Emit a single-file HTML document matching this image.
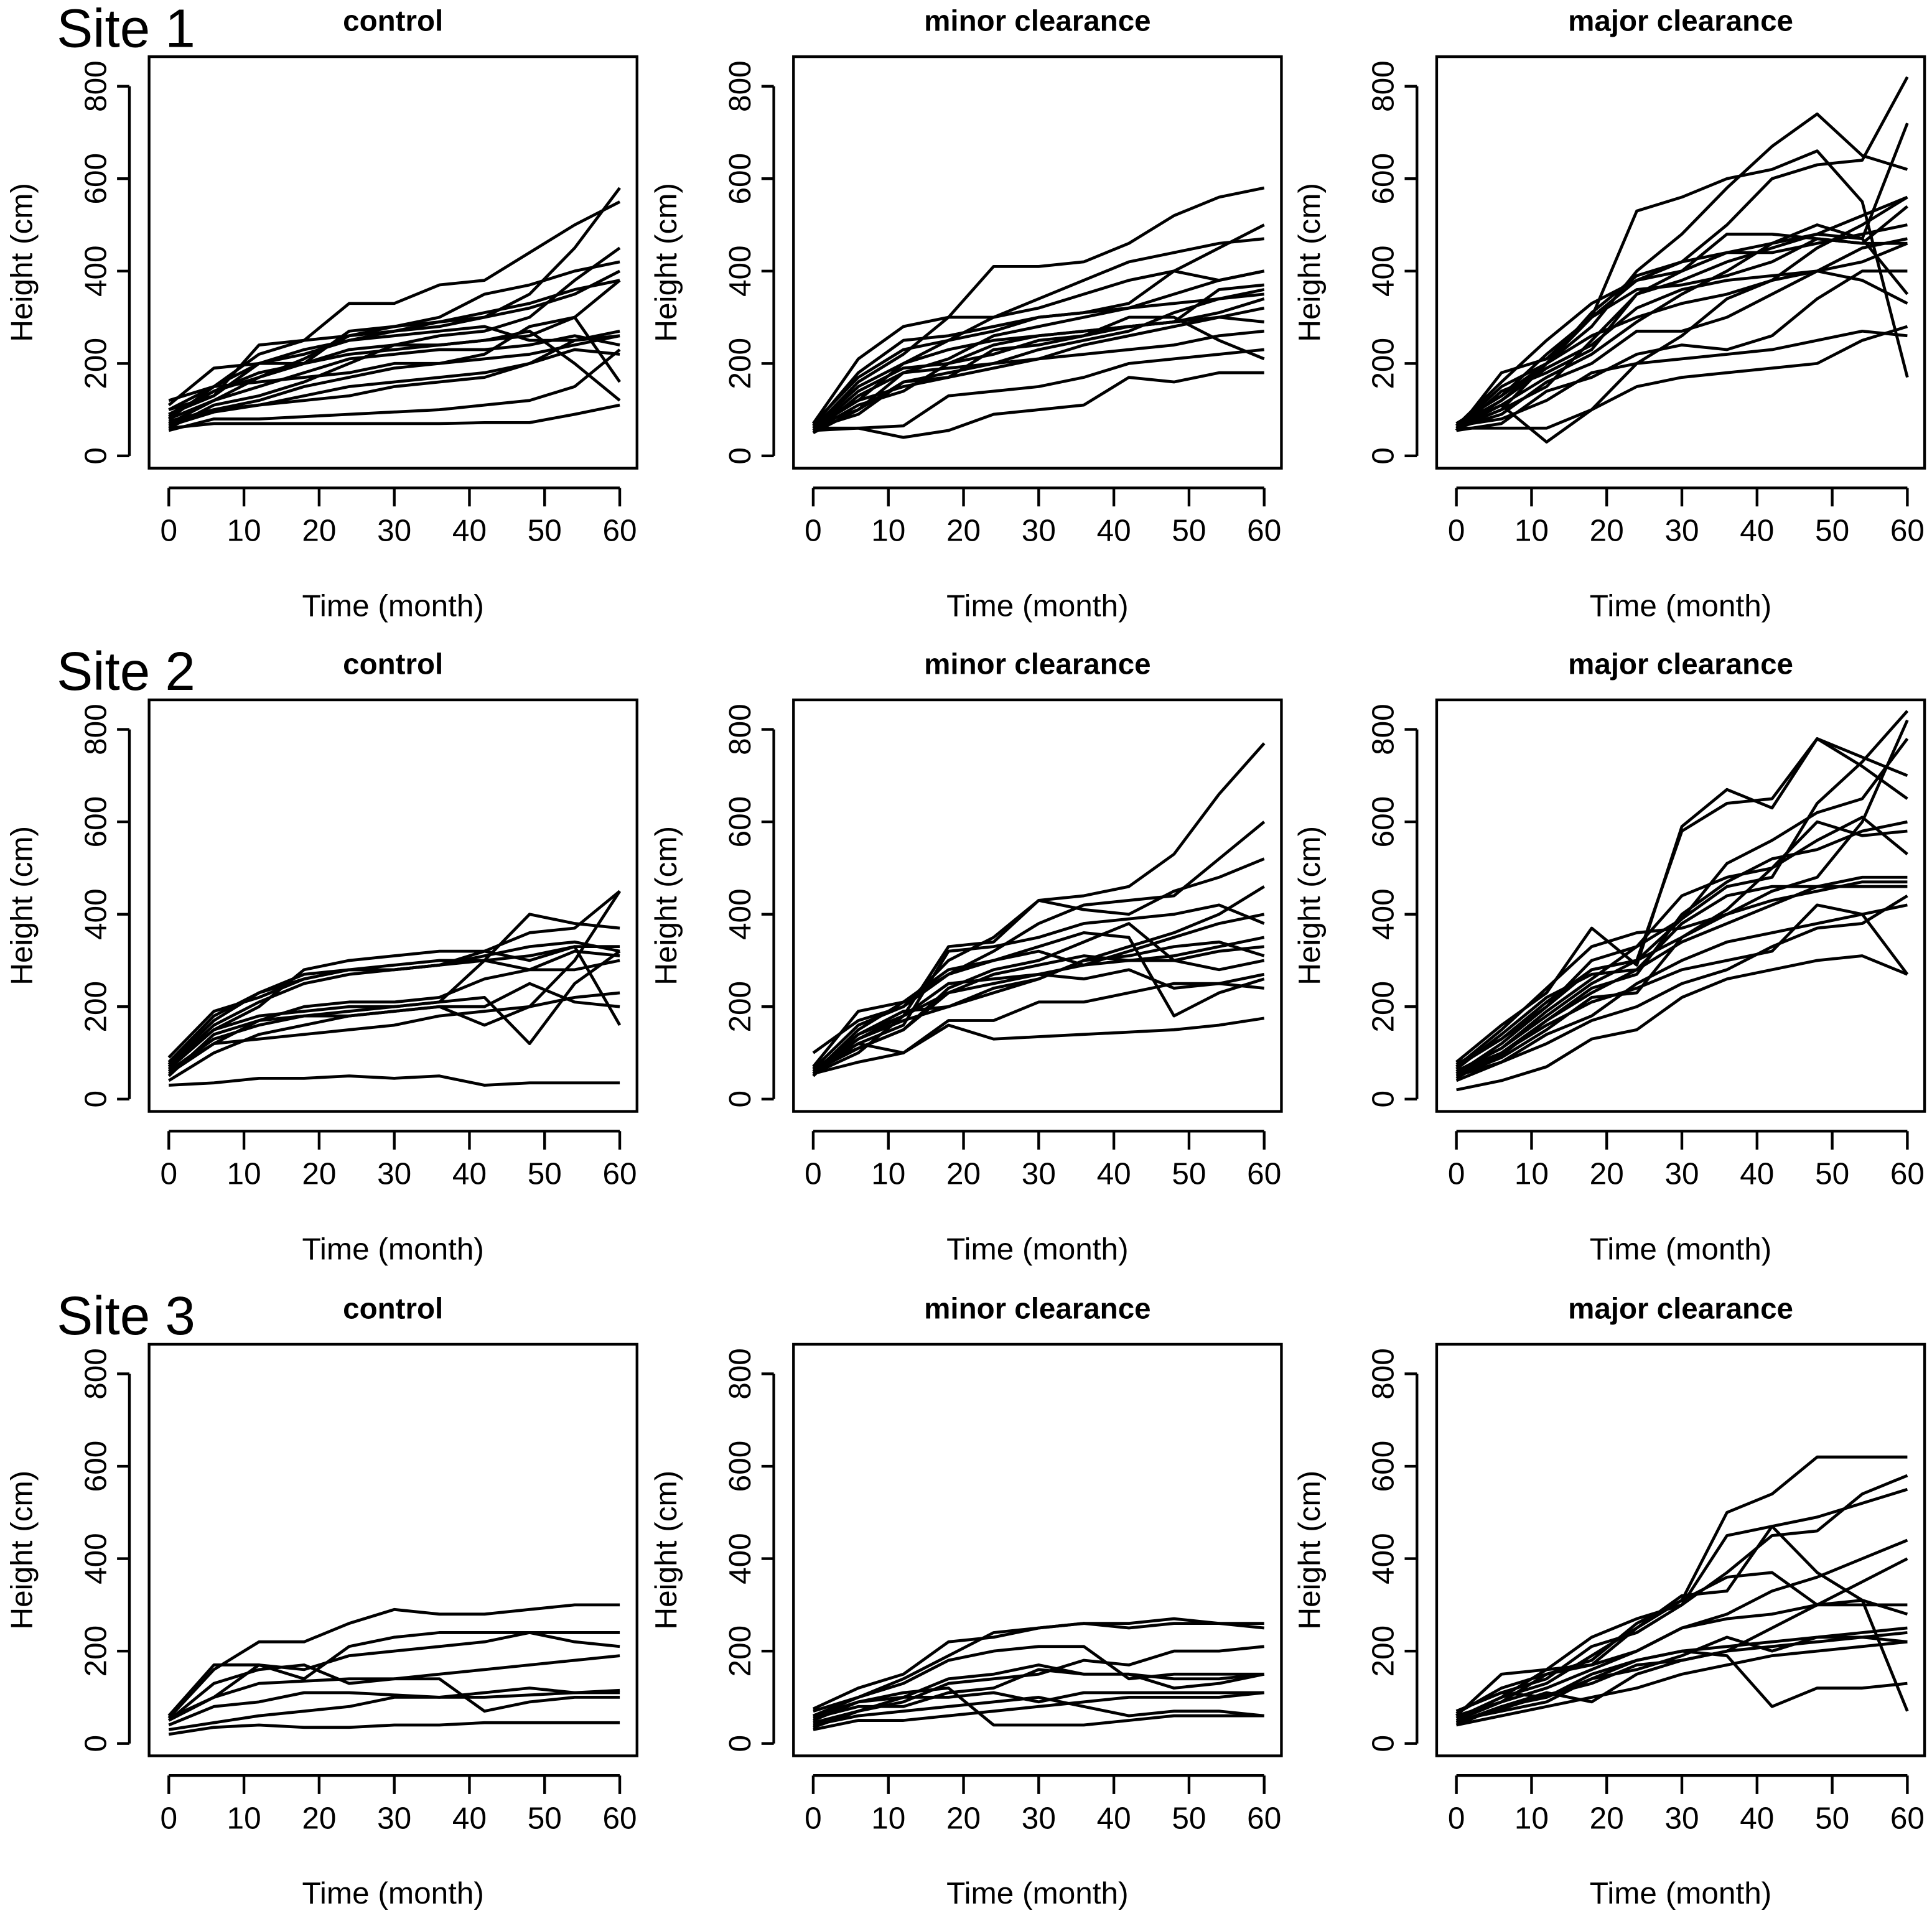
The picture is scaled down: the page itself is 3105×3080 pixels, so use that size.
<!DOCTYPE html>
<html><head><meta charset="utf-8"><style>
html,body{margin:0;padding:0;background:#fff}
svg{display:block}
text{font-family:"Liberation Sans",Arial,sans-serif;fill:#000}
</style></head><body>
<svg id="chart" width="3105" height="3080" viewBox="0 0 1568 1555" preserveAspectRatio="none" xmlns="http://www.w3.org/2000/svg"></svg>
<script>
const times = [0,6,12,18,24,30,36,42,48,54,60];
const xTicks = [0,10,20,30,40,50,60];
const yTicks = [0,200,400,600,800];
const siteLabels = ["Site 1","Site 2","Site 3"];
const treatments = ["control","minor clearance","major clearance"];

const s1control = [
[60,70,70,70,70,70,70,72,72,90,110],[55,80,80,85,90,95,100,110,120,150,230],
[70,100,110,130,150,160,170,180,200,250,270],[90,140,180,200,220,230,240,250,260,300,380],
[100,130,240,250,260,270,280,300,350,450,580],[80,120,170,200,270,280,300,350,370,400,420],
[110,190,200,220,250,260,270,280,250,250,260],[120,150,160,170,180,200,200,210,220,240,260],
[70,120,150,180,210,220,230,230,240,260,240],[60,110,130,160,200,240,260,270,300,380,450],
[80,150,220,250,330,330,370,380,440,500,550],[90,130,200,230,250,270,290,300,320,350,400],
[75,100,120,150,170,190,200,220,280,300,160],[100,150,200,200,230,240,240,250,270,200,120],
[65,95,110,120,130,150,160,170,200,230,220],[85,140,170,210,260,280,290,310,330,360,380]];
const s1minor = [
[55,60,40,55,90,100,110,170,160,180,180],[60,60,65,130,140,150,170,200,210,220,230],
[50,100,160,180,200,210,220,230,240,260,270],[60,150,200,230,250,260,270,280,290,310,340],
[70,210,280,300,410,410,420,460,520,560,580],[60,120,200,250,300,320,350,380,400,450,500],
[70,170,230,250,270,300,310,320,330,340,350],[55,140,190,200,220,250,260,280,290,300,290],
[65,100,180,210,260,280,300,320,350,380,400],[60,160,220,300,300,340,380,420,440,460,470],
[50,130,180,190,200,230,250,270,310,340,360],[70,120,150,170,190,210,240,260,280,300,320],
[60,90,160,170,230,240,260,300,300,250,210],[65,180,250,260,280,300,310,330,400,380,400],
[55,110,140,200,240,260,270,280,290,360,370]];
const s1major = [
[60,60,60,100,150,170,180,190,200,250,280],[65,80,120,180,200,210,220,230,250,270,260],
[60,110,30,100,200,260,340,380,400,420,460],[55,180,210,300,530,560,600,620,660,550,170],
[60,150,200,280,400,480,580,670,740,650,620],[70,130,220,300,380,420,500,600,630,640,820],
[60,100,150,250,350,380,420,450,480,470,720],[65,120,200,260,300,330,350,380,450,500,560],
[55,140,180,230,350,400,440,440,460,480,500],[60,90,160,200,270,270,300,350,400,450,470],
[65,160,250,330,380,400,480,480,470,460,460],[60,120,190,240,320,360,380,390,400,380,330],
[70,130,200,310,390,420,440,460,500,470,350],[55,70,140,170,220,240,230,260,340,400,400],
[60,100,200,300,360,370,390,420,470,460,540],[65,110,170,220,290,350,400,460,480,520,560]];
const s2control = [
[30,35,45,45,50,45,50,30,35,35,35],[60,120,130,140,150,160,180,190,200,220,230],
[70,150,180,190,200,200,210,220,120,250,320],[80,180,230,260,280,280,290,300,310,330,330],
[50,140,170,180,180,190,200,160,200,300,450],[90,190,220,260,280,290,300,300,400,380,370],
[60,130,160,180,190,200,210,300,280,320,310],[70,160,210,250,270,280,290,310,330,340,320],
[40,100,140,160,180,190,200,200,250,210,200],[65,150,200,280,300,310,320,320,300,330,160],
[75,170,230,270,280,280,290,320,360,370,450],[55,120,170,200,210,210,220,260,280,280,300]];
const s2minor = [
[55,80,100,160,130,135,140,145,150,160,175],[60,120,100,170,170,210,210,230,250,250,270],
[50,140,180,330,340,430,440,460,530,660,770],[65,160,200,270,320,380,420,430,440,520,600],
[55,100,180,250,260,270,260,280,240,250,240],[60,110,150,240,280,300,340,380,300,280,300],
[100,170,200,300,350,430,410,400,450,480,520],[55,130,180,230,250,270,290,320,350,380,400],
[70,190,210,280,300,330,360,350,180,230,260],[60,140,190,200,230,260,300,330,360,400,460],
[65,120,160,320,330,350,380,390,400,420,380],[55,150,210,270,300,320,290,300,310,330,350],
[60,130,170,200,240,260,300,310,330,340,310],[70,110,150,230,270,290,310,300,300,320,330]];
const s2major = [
[20,40,70,130,150,220,260,280,300,310,270],[40,80,120,170,200,250,280,330,370,380,440],
[60,110,180,250,300,390,460,480,640,730,840],[70,130,200,280,300,580,640,650,780,740,700],
[50,90,150,220,230,350,400,450,480,600,820],[80,160,230,370,290,590,670,630,780,720,650],
[60,100,170,240,270,400,470,520,540,580,600],[55,120,200,300,330,440,480,500,600,570,580],
[65,140,220,270,280,380,440,460,460,460,460],[50,80,140,180,250,300,340,360,380,400,420],
[70,150,240,330,360,370,400,430,450,470,470],[45,100,160,210,240,280,300,320,420,400,270],
[60,110,190,260,330,390,510,560,620,650,780],[75,130,210,280,300,350,410,500,560,610,530],
[55,95,170,230,280,340,380,420,460,480,480]];
const s3control = [
[20,35,40,35,35,40,40,45,45,45,45],[30,45,60,70,80,100,100,100,105,110,115],
[50,100,130,135,140,140,140,70,90,100,100],[55,160,220,220,260,290,280,280,290,300,300],
[50,130,160,170,130,140,150,160,170,180,190],[60,170,170,160,190,200,210,220,240,240,240],
[40,80,90,110,110,105,100,110,120,110,110],[55,100,170,140,210,230,240,240,240,220,210]];
const s3minor = [
[30,50,50,60,70,80,90,100,100,100,110],[40,60,70,80,90,100,80,60,70,70,60],
[60,100,130,180,200,210,210,140,150,150,150],[75,120,150,220,230,250,260,250,260,260,260],
[55,80,80,110,120,160,150,150,120,130,150],[50,90,110,120,40,40,40,50,60,60,60],
[45,70,90,130,140,150,180,170,200,200,210],[70,100,140,190,240,250,260,260,270,260,250],
[60,90,100,140,150,170,150,150,140,140,150],[35,70,100,100,110,90,110,110,110,110,110]];
const s3major = [
[40,60,80,100,120,150,170,190,200,210,220],[50,90,150,170,250,310,500,540,620,620,620],
[60,150,160,230,270,300,370,450,460,540,580],[45,80,100,150,180,200,190,80,120,120,130],
[55,100,130,190,250,320,330,470,370,310,70],[70,110,140,210,240,300,450,470,490,520,550],
[60,90,120,160,200,250,280,330,360,400,440],[50,70,90,140,180,200,210,220,230,230,240],
[65,120,150,180,260,310,360,370,300,300,300],[40,80,110,90,150,180,200,210,220,230,220],
[55,100,160,170,200,250,270,280,300,310,280],[70,110,100,140,160,190,230,200,230,240,250],
[45,75,105,130,170,180,200,250,300,350,400]];

const panels = [[s1control,s1minor,s1major],[s2control,s2minor,s2major],[s3control,s3minor,s3major]];
const NS="http://www.w3.org/2000/svg";
const svg=document.getElementById('chart');
function mk(tag,attrs,parent){const e=document.createElementNS(NS,tag);for(const k in attrs)e.setAttribute(k,attrs[k]);(parent||svg).appendChild(e);return e;}

const colOff=[0,523,1045], rowOff=[0,522,1045];
for(let r=0;r<3;r++){
  const site=mk('text',{x:46,y:38+rowOff[r],'font-size':44});
  
  
  site.textContent=siteLabels[r];
  for(let c=0;c<3;c++){
    const ox=colOff[c], oy=rowOff[r];
    const g=mk('g',{});
    
    
    const xS=t=>137+ox+(t/60)*366;
    const yS=v=>370+oy-(v/800)*300;
    const box=mk('rect',{x:121+ox,y:46+oy,width:396,height:334,fill:'none',stroke:'#000','stroke-width':2.2},g);
    
    
    const tt=mk('text',{x:319+ox,y:25+oy,'font-size':24,'font-weight':'bold','text-anchor':'middle'},g);
    
    
    tt.textContent=treatments[c];
    const xa=mk('line',{x1:xS(0),x2:xS(60),y1:396+oy,y2:396+oy,stroke:'#000','stroke-width':2.2},g);
    
    
    xTicks.forEach(t=>{
      mk('line',{x1:xS(t),x2:xS(t),y1:396+oy,y2:411+oy,stroke:'#000','stroke-width':2.2},g);
      const tl=mk('text',{x:xS(t),y:439+oy,'font-size':25,'text-anchor':'middle'},g);
      
      
      tl.textContent=t;
    });
    const xt=mk('text',{x:319+ox,y:500+oy,'font-size':25,'text-anchor':'middle'},g);
    
    
    xt.textContent='Time (month)';
    const ya=mk('line',{x1:105+ox,x2:105+ox,y1:yS(0),y2:yS(800),stroke:'#000','stroke-width':2.2},g);
    
    
    yTicks.forEach(v=>{
      mk('line',{x1:95+ox,x2:105+ox,y1:yS(v),y2:yS(v),stroke:'#000','stroke-width':2.2},g);
      const yl=mk('text',{x:0,y:0,'font-size':25,'text-anchor':'middle',transform:`translate(${86+ox},${yS(v)}) rotate(-90)`},g);
      
      
      yl.textContent=v;
    });
    const yt=mk('text',{x:0,y:0,'font-size':25,'text-anchor':'middle',transform:`translate(${26+ox},${213+oy}) rotate(-90)`},g);
    
    
    yt.textContent='Height (cm)';
    panels[r][c].forEach((s,i)=>{
      const p=mk('polyline',{points:s.map((v,j)=>xS(times[j])+','+yS(v)).join(' '),fill:'none',stroke:'#000','stroke-width':2.4,'stroke-linejoin':'round'},g);
      
      
    });
  }
}
</script>
</body></html>
